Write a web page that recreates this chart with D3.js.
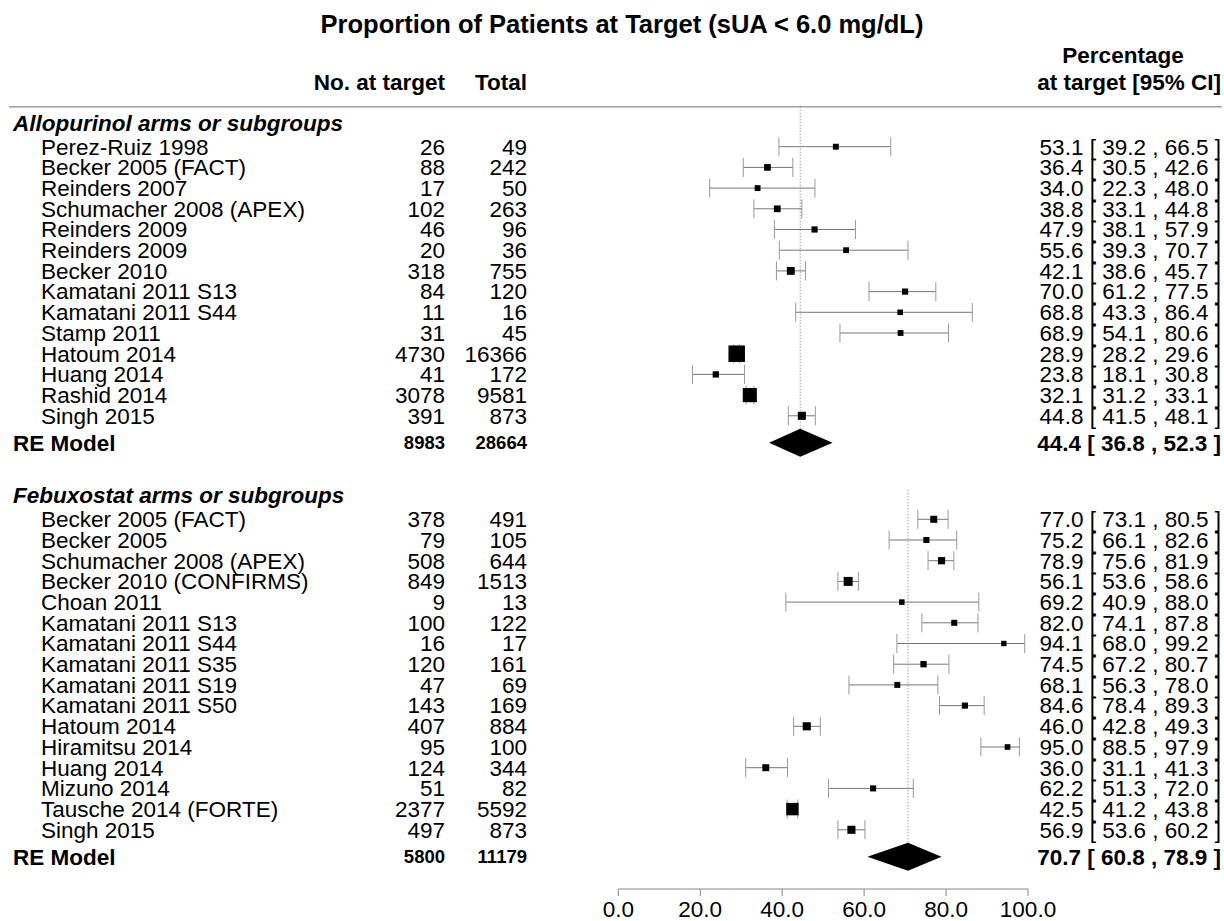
<!DOCTYPE html>
<html><head><meta charset="utf-8">
<script src="https://cdn.jsdelivr.net/npm/d3@7/dist/d3.min.js"></script>
<style>
html,body{margin:0;padding:0;background:#fff;}
svg text{font-family:"Liberation Sans",Arial,Helvetica,sans-serif;fill:#000;}
</style></head>
<body><svg id="chart" width="1224" height="921"></svg>
<script>
// ---------- data ----------
const title = "Proportion of Patients at Target (sUA < 6.0 mg/dL)";
const alloLabel = "Allopurinol arms or subgroups";
const alloStudies = ["Perez-Ruiz 1998","Becker 2005 (FACT)","Reinders 2007","Schumacher 2008 (APEX)","Reinders 2009","Reinders 2009","Becker 2010","Kamatani 2011 S13","Kamatani 2011 S44","Stamp 2011","Hatoum 2014","Huang 2014","Rashid 2014","Singh 2015"];
const alloEvents = [26,88,17,102,46,20,318,84,11,31,4730,41,3078,391];
const alloTotals = [49,242,50,263,96,36,755,120,16,45,16366,172,9581,873];
const alloEst = [53.1,36.4,34.0,38.8,47.9,55.6,42.1,70.0,68.8,68.9,28.9,23.8,32.1,44.8];
const alloLo  = [39.2,30.5,22.3,33.1,38.1,39.3,38.6,61.2,43.3,54.1,28.2,18.1,31.2,41.5];
const alloHi  = [66.5,42.6,48.0,44.8,57.9,70.7,45.7,77.5,86.4,80.6,29.6,30.8,33.1,48.1];
const alloRE = {events:8983, total:28664, est:44.4, lo:36.8, hi:52.3};

const febuLabel = "Febuxostat arms or subgroups";
const febuStudies = ["Becker 2005 (FACT)","Becker 2005","Schumacher 2008 (APEX)","Becker 2010 (CONFIRMS)","Choan 2011","Kamatani 2011 S13","Kamatani 2011 S44","Kamatani 2011 S35","Kamatani 2011 S19","Kamatani 2011 S50","Hatoum 2014","Hiramitsu 2014","Huang 2014","Mizuno 2014","Tausche 2014 (FORTE)","Singh 2015"];
const febuEvents = [378,79,508,849,9,100,16,120,47,143,407,95,124,51,2377,497];
const febuTotals = [491,105,644,1513,13,122,17,161,69,169,884,100,344,82,5592,873];
const febuEst = [77.0,75.2,78.9,56.1,69.2,82.0,94.1,74.5,68.1,84.6,46.0,95.0,36.0,62.2,42.5,56.9];
const febuLo  = [73.1,66.1,75.6,53.6,40.9,74.1,68.0,67.2,56.3,78.4,42.8,88.5,31.1,51.3,41.2,53.6];
const febuHi  = [80.5,82.6,81.9,58.6,88.0,87.8,99.2,80.7,78.0,89.3,49.3,97.9,41.3,72.0,43.8,60.2];
const febuRE = {events:5800, total:11179, est:70.7, lo:60.8, hi:78.9};

const colHeaders = ["No. at target","Total"];
const ciHeader = ["Percentage","at target [95% CI]"];
const axisTicks = [0,20,40,60,80,100];

// ---------- layout ----------
const svg = d3.select("#chart");
const x = d3.scaleLinear().domain([0,100]).range([618.3,1028]);
const y = d3.scaleLinear().domain([0,1]).range([146.7,167.4]);

const FS = 22.5;
const xLabel = 41, xGroup = 13, xNo = 445, xTot = 527, xCI = 1221;

function txt(g, px, py, s, o={}) {
  return g.append("text")
    .attr("x", px).attr("y", py)
    .attr("dy","0.35em")
    .attr("text-anchor", o.anchor || "start")
    .style("font-size", (o.size||FS)+"px")
    .style("font-weight", o.weight||"normal")
    .style("font-style", o.style||"normal")
    .text(s);
}
const f1 = d3.format(".1f");
const ciText = (e,l,h) => `${f1(e)} [ ${f1(l)} , ${f1(h)} ]`;

function wt(ev,n){ const p=ev/n; return Math.sqrt(n*p*(1-p)); }
const allW = [];
alloEvents.forEach((e,i)=>allW.push(wt(e,alloTotals[i])));
febuEvents.forEach((e,i)=>allW.push(wt(e,febuTotals[i])));
const sizeScale = d3.scaleLinear().domain(d3.extent(allW)).range([5.4,16.5]);

// title & headers
txt(svg, 622, 24, title, {anchor:"middle", weight:"bold", size:25.5});
txt(svg, xNo, 82, colHeaders[0], {anchor:"end", weight:"bold"});
txt(svg, xTot, 82, colHeaders[1], {anchor:"end", weight:"bold"});
txt(svg, 1123, 55, ciHeader[0], {anchor:"middle", weight:"bold"});
txt(svg, xCI, 82, ciHeader[1], {anchor:"end", weight:"bold"});
svg.append("line").attr("x1",9).attr("x2",1222).attr("y1",y(-1.93)).attr("y2",y(-1.93))
  .attr("stroke","#a0a0a0").attr("stroke-width",1.5);

function block(label, studies, ev, tot, est, lo, hi, re, r0, dotTop) {
  const g = svg.append("g");
  const reRow = r0 + studies.length + 0.3;
  g.append("line").attr("x1",x(re.est)).attr("x2",x(re.est))
    .attr("y1",y(dotTop)).attr("y2",y(reRow))
    .attr("stroke","#777").attr("stroke-width",1).attr("stroke-dasharray","1,2");
  txt(g, xGroup, y(r0-1.15), label, {weight:"bold", style:"italic"});
  studies.forEach((s,i)=>{
    const yy = y(r0+i);
    txt(g, xLabel, yy, s);
    txt(g, xNo, yy, String(ev[i]), {anchor:"end"});
    txt(g, xTot, yy, String(tot[i]), {anchor:"end"});
    txt(g, xCI, yy, ciText(est[i],lo[i],hi[i]), {anchor:"end"});
    g.append("line").attr("x1",x(lo[i])).attr("x2",x(hi[i])).attr("y1",yy).attr("y2",yy)
      .attr("stroke","#777").attr("stroke-width",1);
    [lo[i],hi[i]].forEach(v=>g.append("line").attr("x1",x(v)).attr("x2",x(v))
      .attr("y1",yy-9.5).attr("y2",yy+9.5).attr("stroke","#999").attr("stroke-width",1));
    const sz = sizeScale(wt(ev[i],tot[i]));
    g.append("rect").attr("x",x(est[i])-sz/2).attr("y",yy-sz/2).attr("width",sz).attr("height",sz).attr("fill","#000");
  });
  const yr = y(reRow);
  txt(g, xGroup, yr, "RE Model", {weight:"bold"});
  txt(g, xNo, yr, String(re.events), {anchor:"end", weight:"bold", size:18.5});
  txt(g, xTot, yr, String(re.total), {anchor:"end", weight:"bold", size:18.5});
  txt(g, xCI, yr, ciText(re.est,re.lo,re.hi), {anchor:"end", weight:"bold"});
  const h = 14;
  g.append("path").attr("d", `M${x(re.lo)},${yr} L${x(re.est)},${yr-h} L${x(re.hi)},${yr} L${x(re.est)},${yr+h} Z`).attr("fill","#000");
}
block(alloLabel, alloStudies, alloEvents, alloTotals, alloEst, alloLo, alloHi, alloRE, 0, -1.93);
block(febuLabel, febuStudies, febuEvents, febuTotals, febuEst, febuLo, febuHi, febuRE, 18, 16.6);

// axis
const axisY = 889;
const ax = svg.append("g").attr("transform",`translate(0,${axisY})`);
ax.append("line").attr("x1",x(0)).attr("x2",x(100)).attr("stroke","#888").attr("stroke-width",1);
axisTicks.forEach(t=>{
  ax.append("line").attr("x1",x(t)).attr("x2",x(t)).attr("y1",0).attr("y2",7).attr("stroke","#888");
  txt(ax, x(t), 20, f1(t), {anchor:"middle"});
});
</script></body></html>
